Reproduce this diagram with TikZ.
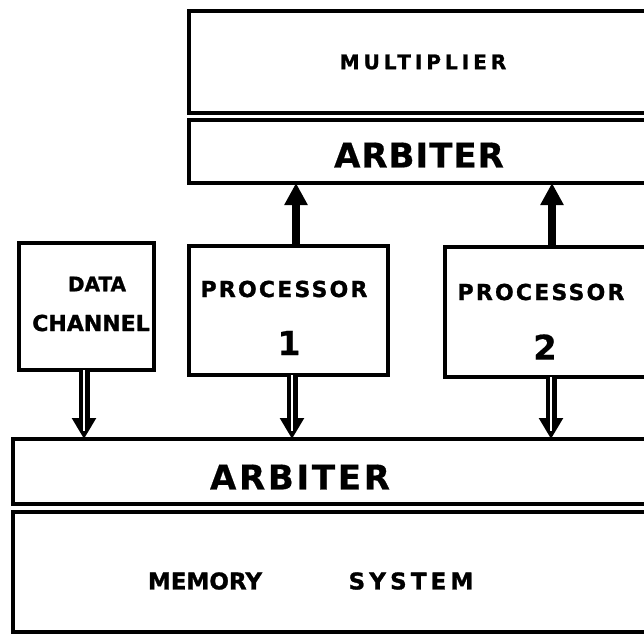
\documentclass[tikz,border=0pt]{standalone}
\usepackage{fontspec}
\setmainfont{DejaVu Sans}
\usetikzlibrary{arrows.meta}
\newfontfamily\fza{DejaVu Sans}[UprightFont={* Bold}, UprightFeatures={FakeBold=1.2}]
\newfontfamily\fzb{DejaVu Sans}[UprightFont={* Bold}, UprightFeatures={FakeBold=1.2}, LetterSpace=10]
\newfontfamily\fzc{DejaVu Sans}[UprightFont={* Bold}, UprightFeatures={FakeBold=1.2}, LetterSpace=18]
\newfontfamily\fzf{DejaVu Sans}[UprightFont={* Bold}, UprightFeatures={FakeBold=1.2}, LetterSpace=20]
\newfontfamily\fzd{DejaVu Sans}[UprightFont={* Bold}, UprightFeatures={FakeBold=0.6}, LetterSpace=3]
\newfontfamily\fze{DejaVu Sans}[UprightFont={* Bold}, UprightFeatures={FakeBold=0.6}, LetterSpace=8]
\begin{document}
\begin{tikzpicture}[x=1pt,y=-1pt,
  box/.style={draw, line width=3.5pt, anchor=north west, inner sep=0pt, outer sep=0pt},
  lbl/.style={inner sep=0pt},
  upar/.style={line width=8pt, -{Triangle[width=22pt,length=22pt]}},
  dnar/.style={line width=11pt, -{Triangle[width=23pt,length=21pt]}},
  gap/.style={white, line width=2.5pt}]
\useasboundingbox (0,0) rectangle (644,641);
\clip (0,0) rectangle (644,641);
% boxes
\node[box, minimum width=520pt, minimum height=102pt] (mult) at (189,11) {};
\node[box, minimum width=520pt, minimum height=63pt] (arbT) at (189,120) {};
\node[box, minimum width=135pt, minimum height=127pt] (dc) at (19,243) {};
\node[box, minimum width=199pt, minimum height=129pt] (p1) at (189,246) {};
\node[box, minimum width=300pt, minimum height=130pt] (p2) at (445,247) {};
\node[box, minimum width=700pt, minimum height=65pt] (arbB) at (13,439) {};
\node[box, minimum width=700pt, minimum height=120pt] (mem) at (13,512) {};
% labels
\node[lbl, font=\fzf\fontsize{20}{20}\selectfont] (tmult) at (423,62) {MULTIPLIER};
\node[lbl, font=\fzd\fontsize{34}{34}\selectfont] (tarbT) at (419,155) {ARBITER};
\node[lbl, font=\fza\fontsize{20}{20}\selectfont] (tdata) at (97,284) {DATA};
\node[lbl, font=\fza\fontsize{22}{22}\selectfont] (tchan) at (91,323) {CHANNEL};
\node[lbl, font=\fzb\fontsize{22}{22}\selectfont] (tp1) at (284,289) {PROCESSOR};
\node[lbl, font=\fzd\fontsize{33}{33}\selectfont] (tn1) at (289,343) {1};
\node[lbl, font=\fzb\fontsize{22}{22}\selectfont] (tp2) at (541,292) {PROCESSOR};
\node[lbl, font=\fzd\fontsize{34}{34}\selectfont] (tn2) at (545,347) {2};
\node[lbl, font=\fze\fontsize{34}{34}\selectfont] (tarbB) at (300,477) {ARBITER};
\node[lbl, font=\fza\fontsize{23}{23}\selectfont] (tmem) at (205,581) {MEMORY};
\node[lbl, font=\fzc\fontsize{23}{23}\selectfont] (tsys) at (411,581) {SYSTEM};
% up arrows
\draw[upar] ([xshift=107pt]p1.north west) -- ([xshift=107pt]p1.north west |- arbT.south);
\draw[upar] ([xshift=107pt]p2.north west) -- ([xshift=107pt]p2.north west |- arbT.south);
% down double arrows
\foreach \n/\s in {dc/65pt, p1/103pt, p2/106pt}{
  \draw[dnar] ([xshift=\s]\n.south west) -- ([xshift=\s]\n.south west |- arbB.north);
  \draw[gap] ([xshift=\s]\n.south west) -- ([xshift=\s,yshift=8pt]\n.south west |- arbB.north);
}
\end{tikzpicture}
\end{document}
